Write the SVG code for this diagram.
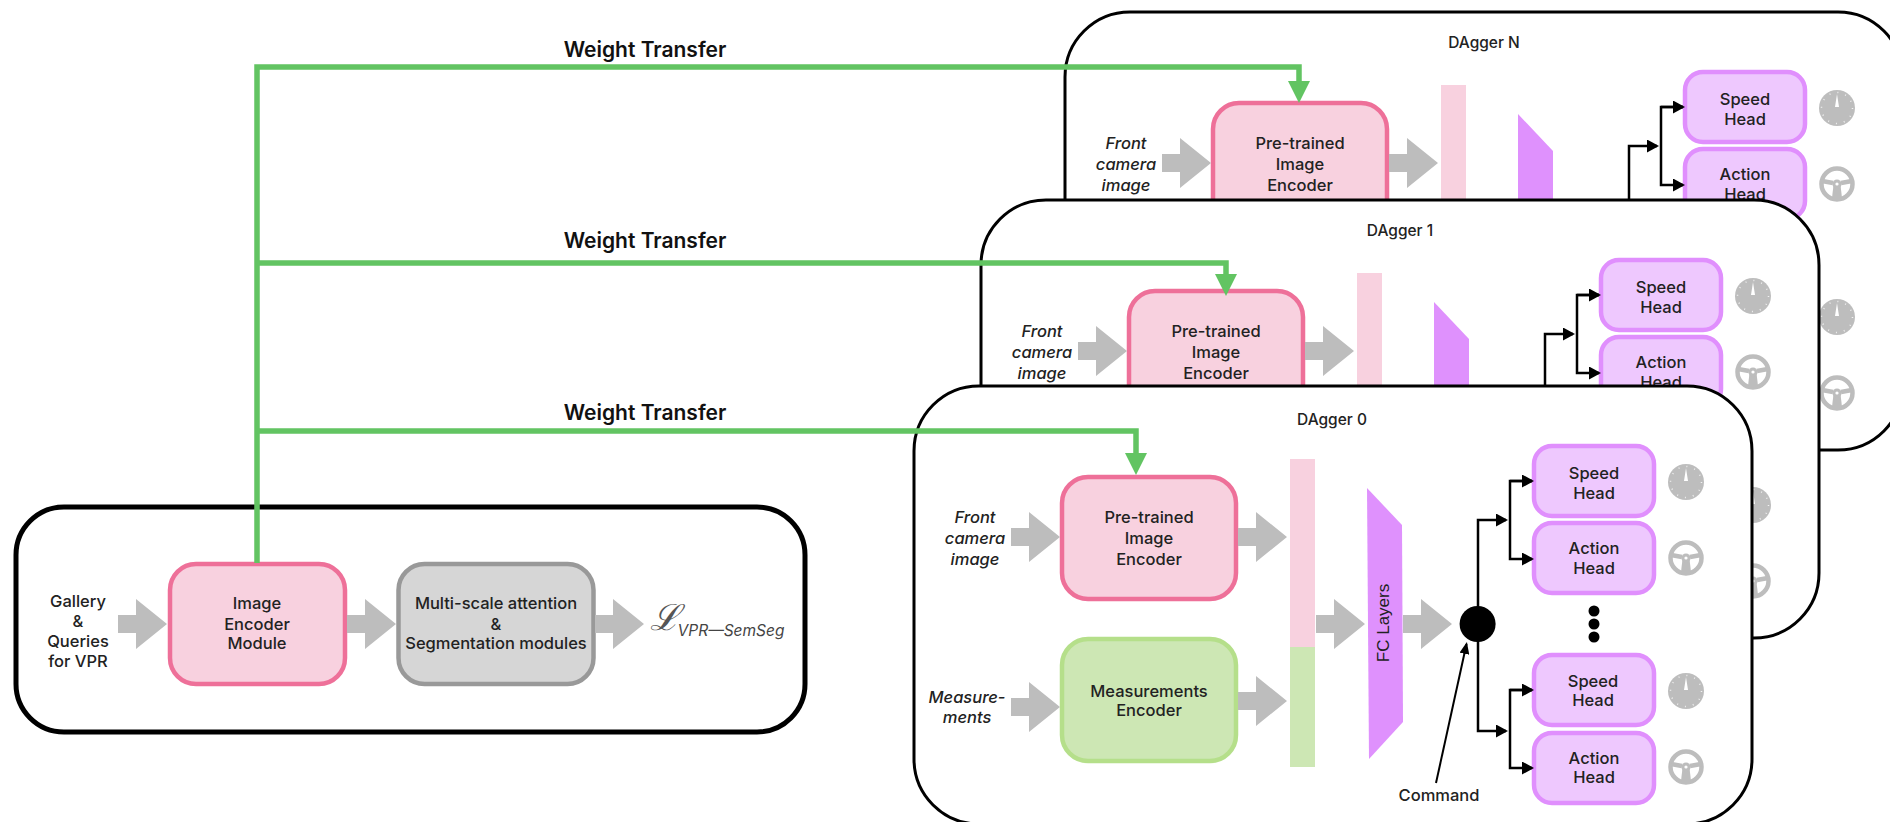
<svg xmlns="http://www.w3.org/2000/svg" width="1890" height="822" viewBox="0 0 1890 822">
<style>
text{font-family:"Inter","Liberation Sans",sans-serif;font-size:16.500px;font-weight:500;fill:#222;text-anchor:middle}
.it{font-style:italic}
.frame{fill:#fff;stroke:#000;stroke-width:3}
.pink{fill:#f8d1df;stroke:#ee7099;stroke-width:4.5}
.green{fill:#cde7b4;stroke:#b5df8a;stroke-width:4.5}
.grey{fill:#d6d6d6;stroke:#999;stroke-width:4.5}
.head{fill:#eec8fe;stroke:#e08ffd;stroke-width:4.5}
.ttl{font-size:15.500px}
.wt{font-size:21px;font-weight:600;fill:#111}
.blk{fill:none;stroke:#000;stroke-width:2.5}
.gr{fill:none;stroke:#62c462;stroke-width:5.5}
</style>
<defs>
<polygon id="ga" fill="#bdbdbd" points="-49,-9 -31,-9 -31,-25 0,0 -31,25 -31,9 -49,9"/>
<polygon id="gh" fill="#62c462" points="-11,-22 11,-22 0,0"/>
<marker id="ah" markerUnits="userSpaceOnUse" markerWidth="12" markerHeight="13" refX="10" refY="6.5" orient="auto"><path d="M0 0L12 6.5L0 13z" fill="#000"/></marker>
<marker id="ac" markerUnits="userSpaceOnUse" markerWidth="12" markerHeight="10" refX="10" refY="5" orient="auto"><path d="M0 0L12 5L0 10z" fill="#000"/></marker>
<g id="gauge"><circle r="18" fill="#bdbdbd"/><path d="M-2 -1L0 -14L2 -1z" fill="#fff"/><circle r="15.500" fill="none" stroke="#fff" stroke-width="1.500" stroke-dasharray="1 7.110" opacity="0.800"/></g>
<g id="wheel" fill="none" stroke="#bdbdbd"><circle r="15.500" stroke-width="4.500"/><path d="M-15 -3L-4 -1M15 -3L4 -1" stroke-width="4.500"/><path d="M-3.500 1L-5 14H5L3.500 1z" fill="#bdbdbd" stroke="none"/><circle r="4.500" fill="#bdbdbd" stroke="none"/><circle r="1.600" fill="#fff" stroke="none"/></g>
</defs>

<g id="vpr-frame"><rect x="16" y="507" width="789" height="225" rx="48" fill="#fff" stroke="#000" stroke-width="5"/></g>
<g id="vpr-input"><text x="78" y="607">Gallery</text><text x="78" y="627">&amp;</text><text x="78" y="647">Queries</text><text x="78" y="667">for VPR</text></g>
<g id="image-encoder-module"><rect class="pink" x="170" y="564" width="175" height="120" rx="26"/><text x="257" y="609">Image</text><text x="257" y="630">Encoder</text><text x="257" y="649">Module</text></g>
<g id="segmentation-modules"><rect class="grey" x="398.500" y="564" width="195" height="120" rx="26"/><text x="496" y="609">Multi-scale attention</text><text x="496" y="630">&amp;</text><text x="496" y="649">Segmentation modules</text></g>
<g id="loss"><text x="665" y="630" style="font-family:'DejaVu Serif',serif;font-size:36px;font-weight:400;font-style:italic;fill:#555">ℒ</text><text x="731" y="636" class="it" style="fill:#444;font-size:15.500px;font-weight:400">VPR—SemSeg</text></g>

<g id="dagger-n" transform="translate(151,-374)">
<g id="dn-frame"><rect class="frame" x="914" y="386" width="838" height="438" rx="65"/></g>
<g id="dn-title"><text class="ttl" x="1333" y="422">DAgger N</text></g>
<g id="dn-input"><text x="975" y="523" class="it">Front</text><text x="975" y="544" class="it">camera</text><text x="975" y="565" class="it">image</text></g>
<g id="dn-encoder"><rect class="pink" x="1062" y="477" width="174" height="122" rx="26"/><text x="1149" y="523">Pre-trained</text><text x="1149" y="544">Image</text><text x="1149" y="565">Encoder</text></g>
<g id="dn-bar"><rect x="1290" y="459" width="25" height="190" fill="#f8d1df"/></g>
<g id="dn-fc"><polygon points="1367,488 1402,525 1402,600 1367,600" fill="#df91fd"/></g>
<g id="dn-speed"><rect class="head" x="1534" y="446" width="120" height="70" rx="18"/><text x="1594" y="479">Speed</text><text x="1594" y="499">Head</text></g>
<g id="dn-action"><rect class="head" x="1534" y="523" width="120" height="70" rx="18"/><text x="1594" y="554">Action</text><text x="1594" y="574">Head</text></g>
<g id="dn-icons"><use href="#gauge" x="1686" y="482"/><use href="#wheel" x="1686" y="558"/><use href="#gauge" x="1686" y="691"/><use href="#wheel" x="1686" y="767"/></g>
</g>

<g id="dagger-1" transform="translate(67,-186)">
<g id="d1-frame"><rect class="frame" x="914" y="386" width="838" height="438" rx="65"/></g>
<g id="d1-title"><text class="ttl" x="1333" y="422">DAgger 1</text></g>
<g id="d1-input"><text x="975" y="523" class="it">Front</text><text x="975" y="544" class="it">camera</text><text x="975" y="565" class="it">image</text></g>
<g id="d1-encoder"><rect class="pink" x="1062" y="477" width="174" height="122" rx="26"/><text x="1149" y="523">Pre-trained</text><text x="1149" y="544">Image</text><text x="1149" y="565">Encoder</text></g>
<g id="d1-bar"><rect x="1290" y="459" width="25" height="190" fill="#f8d1df"/></g>
<g id="d1-fc"><polygon points="1367,488 1402,525 1402,600 1367,600" fill="#df91fd"/></g>
<g id="d1-speed"><rect class="head" x="1534" y="446" width="120" height="70" rx="18"/><text x="1594" y="479">Speed</text><text x="1594" y="499">Head</text></g>
<g id="d1-action"><rect class="head" x="1534" y="523" width="120" height="70" rx="18"/><text x="1594" y="554">Action</text><text x="1594" y="574">Head</text></g>
<g id="d1-icons"><use href="#gauge" x="1686" y="482"/><use href="#wheel" x="1686" y="558"/><use href="#gauge" x="1686" y="691"/><use href="#wheel" x="1686" y="767"/></g>
</g>

<g id="dagger-0">
<g id="d0-frame"><rect class="frame" x="914" y="386" width="838" height="438" rx="65"/></g>
<g id="d0-title"><text class="ttl" x="1332" y="425">DAgger 0</text></g>
<g id="d0-input"><text x="975" y="523" class="it">Front</text><text x="975" y="544" class="it">camera</text><text x="975" y="565" class="it">image</text></g>
<g id="d0-measurements"><text x="967" y="703" class="it">Measure-</text><text x="967" y="723" class="it">ments</text></g>
<g id="d0-encoder"><rect class="pink" x="1062" y="477" width="174" height="122" rx="26"/><text x="1149" y="523">Pre-trained</text><text x="1149" y="544">Image</text><text x="1149" y="565">Encoder</text></g>
<g id="d0-meas-encoder"><rect class="green" x="1062" y="639" width="174" height="122" rx="26"/><text x="1149" y="697">Measurements</text><text x="1149" y="716">Encoder</text></g>
<g id="d0-bar"><rect x="1290" y="459" width="25" height="188" fill="#f8d1df"/><rect x="1290" y="647" width="25" height="120" fill="#cde7b4"/></g>
<g id="d0-fc"><polygon points="1367,488 1402,525 1403,722 1369,759" fill="#df91fd"/><text transform="translate(1389,623) rotate(-90)" style="font-family:'Liberation Sans',sans-serif;font-size:17px;font-weight:400">FC Layers</text></g>
<g id="d0-junction"><circle cx="1477.600" cy="624" r="18" fill="#000"/></g>
<g id="d0-speed1"><rect class="head" x="1534" y="446" width="120" height="70" rx="18"/><text x="1594" y="479">Speed</text><text x="1594" y="499">Head</text></g>
<g id="d0-action1"><rect class="head" x="1534" y="523" width="120" height="70" rx="18"/><text x="1594" y="554">Action</text><text x="1594" y="574">Head</text></g>
<g id="d0-dots" fill="#000"><circle cx="1594" cy="611" r="5.500"/><circle cx="1594" cy="624" r="5.500"/><circle cx="1594" cy="637" r="5.500"/></g>
<g id="d0-speed2"><rect class="head" x="1534" y="655" width="120" height="70" rx="18"/><text x="1593" y="687">Speed</text><text x="1593" y="706">Head</text></g>
<g id="d0-action2"><rect class="head" x="1534" y="733" width="120" height="70" rx="18"/><text x="1594" y="764">Action</text><text x="1594" y="783">Head</text></g>
<g id="d0-icons"><use href="#gauge" x="1686" y="482"/><use href="#wheel" x="1686" y="558"/><use href="#gauge" x="1686" y="691"/><use href="#wheel" x="1686" y="767"/></g>
<g id="d0-command"><text x="1439" y="801">Command</text></g>
</g>

<g id="connectors">
<g id="vpr-arrows"><use href="#ga" x="167" y="624"/><use href="#ga" x="396" y="624"/><use href="#ga" x="644" y="624"/></g>
<g id="dn-connectors" transform="translate(151,-374)"><use href="#ga" x="1060" y="537"/><use href="#ga" x="1287" y="537"/>
<path class="blk" d="M1478 574V520H1506" marker-end="url(#ah)"/><path class="blk" d="M1532 481H1510V559H1532" marker-end="url(#ah)"/><path class="blk" d="M1510 481H1532" marker-end="url(#ah)"/></g>
<g id="d1-connectors" transform="translate(67,-186)"><use href="#ga" x="1060" y="537"/><use href="#ga" x="1287" y="537"/>
<path class="blk" d="M1478 571V520H1506" marker-end="url(#ah)"/><path class="blk" d="M1532 481H1510V559H1532" marker-end="url(#ah)"/><path class="blk" d="M1510 481H1532" marker-end="url(#ah)"/></g>
<g id="d0-connectors"><use href="#ga" x="1060" y="537"/><use href="#ga" x="1287" y="537"/><use href="#ga" x="1060" y="707"/><use href="#ga" x="1287" y="701"/><use href="#ga" x="1365" y="624"/><use href="#ga" x="1452" y="624"/>
<path class="blk" d="M1478 624V520H1506" marker-end="url(#ah)"/><path class="blk" d="M1532 481H1510V559H1532" marker-end="url(#ah)"/><path class="blk" d="M1510 481H1532" marker-end="url(#ah)"/>
<path class="blk" d="M1478 624V731H1506" marker-end="url(#ah)"/><path class="blk" d="M1532 690H1510V768H1532" marker-end="url(#ah)"/><path class="blk" d="M1510 690H1532" marker-end="url(#ah)"/>
<path class="blk" style="stroke-width:2" d="M1436 783L1466.500 644" marker-end="url(#ac)"/></g>
<g id="weight-transfer">
<path class="gr" d="M257 563V67H1299V84"/><path class="gr" d="M257 263H1226V276"/><path class="gr" d="M257 431H1136V456"/>
<use href="#gh" x="1299" y="103"/><use href="#gh" x="1226" y="296"/><use href="#gh" x="1136" y="475"/>
<text class="wt" x="645" y="57">Weight Transfer</text><text class="wt" x="645" y="248">Weight Transfer</text><text class="wt" x="645" y="420">Weight Transfer</text>
</g>
</g>
</svg>
